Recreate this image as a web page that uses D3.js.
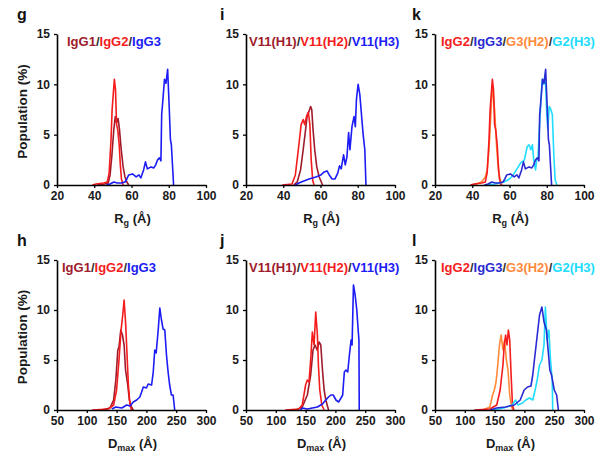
<!DOCTYPE html>
<html><head><meta charset="utf-8">
<script src="https://cdn.jsdelivr.net/npm/d3@7"></script>
<style>
body{margin:0;background:#fff}
svg{display:block;font-family:"Liberation Sans",Arial,sans-serif;font-weight:bold}
</style>
</head><body><svg id="c" width="604" height="458"></svg>
<script>
// ---------- data (x value, population %) ----------
const rgTicks = [20, 40, 60, 80, 100];
const dmTicks = [50, 100, 150, 200, 250, 300];
const popTicks = [0, 5, 10, 15];

// g : Rg
const rgIgG1 = [[41.5,0],[45.5,0.1],[47.5,0.2],[48.5,1.0],[49.5,3.0],[50.5,5.5],[51.3,6.8],[52,6.2],[52.8,6.6],[53.5,5.6],[54.5,3.5],[55.5,1.8],[56.5,0.8],[57.5,0.3],[58.5,0]];
const rgIgG2 = [[39,0],[41,0.1],[43,0.15],[45,0.2],[47,0.3],[48,1.2],[49,4.5],[49.6,7.5],[50.2,9.0],[50.8,10.5],[51.4,9.5],[52,6.0],[52.6,5.5],[53.4,4.0],[54,2.0],[54.6,0.6],[55.5,0]];
const rgIgG3 = [[46.5,0],[48.5,0.1],[50.5,0.3],[52.5,0.2],[54.5,0.2],[56.5,0.3],[57.5,0.6],[58.5,1.0],[60.5,1.1],[62.5,0.8],[64,1.0],[65,0.7],[66.5,1.5],[67.5,2.3],[68.5,1.6],[70.5,1.8],[72,1.7],[73,2.0],[74,2.5],[75,2.7],[75.8,2.4],[76.2,7.0],[76.8,8.3],[77.7,10.5],[78.5,10.1],[79.4,11.5],[80.3,7.5],[80.9,4.5],[81.4,4.0],[82.6,0]];
// i : Rg
const rgV11H1 = [[45.6,0],[47.5,0.3],[49.3,1.5],[50.7,3.5],[52,5.5],[52.9,7.0],[53.8,7.3],[54.7,7.8],[55.3,7.5],[56,5.5],[56.9,3.5],[58,1.8],[59.3,0.8],[61.1,0]];
const rgV11H2 = [[39.5,0],[44.7,0.1],[46.5,1.0],[48.4,4.0],[49.6,6.0],[50.7,6.5],[51.5,6.0],[52.5,6.8],[53.5,7.2],[54.3,6.0],[55,2.5],[55.8,0.5],[56.5,0]];
const rgV11H3 = [[46.5,0],[48.4,0.2],[51.1,0.4],[53.8,0.6],[57.5,0.8],[60.2,1.0],[62,1.3],[63.5,1.4],[64.7,1.0],[66.2,0.6],[67.8,0.6],[69.3,1.2],[70.2,1.9],[71.1,1.6],[72.4,3.0],[73.3,2.0],[74.2,2.8],[75.1,5.2],[75.8,3.5],[76.9,5.8],[78,6.8],[78.7,5.8],[79.3,8.5],[80.2,10.0],[81.1,9.0],[82,7.0],[82.9,5.0],[83.8,3.5],[84.4,0]];
// k : Rg
const rgG3H2 = [[41,0],[45,0.3],[47,0.8],[48,1.5],[49,3.5],[50,7.0],[50.7,9.5],[51.3,9.0],[52,7.5],[53,4.0],[54,1.5],[55,0.5],[56,0]];
const rgG2H3 = [[48,0],[52,0.1],[57,0.3],[60,0.6],[62,1.0],[64,1.6],[66,2.2],[68,2.5],[69.5,3.8],[70.5,4.0],[71.5,3.5],[72.3,4.0],[73,2.5],[74,1.5],[74.6,2.5],[75.3,2.8],[76,5.5],[76.8,8.0],[77.6,10.5],[78.4,10.0],[79.2,11.0],[80,7.0],[80.6,5.5],[81.3,7.8],[82.2,7.5],[83,7.0],[83.8,3.0],[84.5,0.5],[85.5,0]];

// h : Dmax
const dmIgG1 = [[125,0],[139,0.2],[145,1.0],[148.7,3.0],[152,6.0],[154,6.3],[157,8.0],[159.8,7.5],[162.6,6.5],[165,4.0],[168.7,2.5],[171.4,1.0],[175,0.3],[178,0]];
const dmIgG2 = [[109,0],[136,0.1],[145,0.5],[150,2.0],[154,5.0],[157.5,8.0],[160.3,9.5],[162.6,11.0],[165.3,8.5],[167.5,5.5],[169.8,2.5],[172.5,0.5],[175,0]];
const dmIgG3 = [[142,0.1],[148.7,0.3],[158.7,0.2],[167,0.5],[172.5,0.4],[178,0.8],[183.7,1.0],[189,1.3],[192,1.8],[194.8,2.3],[200,2.2],[203,2.6],[208.7,2.5],[211.5,3.8],[214,6.0],[216.4,5.7],[219.8,8.0],[222.5,10.2],[225.3,9.0],[228,8.1],[230.9,8.0],[233.7,5.5],[236.4,3.8],[239,2.5],[242,1.5],[244.8,1.5],[247.5,0]];
// j : Dmax
const dmV11H1 = [[134,0],[144.4,0.3],[152.9,1.5],[158.5,3.5],[162.5,6.0],[165.9,6.5],[169.3,6.0],[172.6,6.8],[175.5,6.5],[178.3,4.0],[181.1,2.0],[183.9,1.0],[188.5,0]];
const dmV11H2 = [[116,0],[138.7,0.1],[144.4,0.5],[150,2.5],[152.9,3.0],[155.7,2.8],[158.5,5.0],[161.3,7.8],[164.2,6.5],[167,9.8],[169.8,7.5],[171.5,4.5],[173.8,2.0],[177.2,0.5],[181.1,0]];
const dmV11H3 = [[141.6,0],[144.4,0.2],[152.9,0.1],[161.3,0.2],[169.8,0.3],[178.3,0.6],[183.9,1.0],[188.5,1.3],[192.4,1.5],[196.4,1.5],[200.9,1.0],[205.4,0.8],[209.4,1.2],[212.2,1.5],[215,3.8],[217.8,4.0],[220.7,3.8],[223.5,5.5],[226.3,7.0],[228,6.5],[230.3,12.5],[233.1,11.5],[235.9,10.0],[238.2,8.0],[239.5,7.0],[240,0]];
// l : Dmax
const dmIgG2l = [[116,0],[142,0.1],[153.6,0.5],[159.3,2.0],[164,4.5],[166.2,6.5],[168.5,7.5],[170.8,6.5],[173.1,8.0],[175.4,7.0],[177.7,3.5],[180,0.5],[182.3,0]];
const dmG3H2 = [[130.6,0],[142,0.3],[146.7,1.5],[149.6,2.0],[152.4,2.8],[155.3,4.5],[158.2,6.5],[161,7.5],[164,6.0],[166.8,7.0],[169.7,5.0],[172.5,4.0],[175.4,1.5],[178.3,0.3],[181.2,0]];
const dmIgG3l = [[143,0],[153,0.2],[168,0.3],[183,0.5],[193,1.0],[199.6,2.0],[205.3,2.3],[211,2.4],[214,3.5],[216.8,5.0],[219.7,6.5],[222.5,8.0],[225.4,9.5],[229.4,10.3],[232.9,8.8],[236.9,8.0],[239.8,6.0],[242.7,4.0],[245.5,3.5],[250.1,2.0],[254.1,1.5],[257,0]];
const dmG2H3 = [[147.8,0],[165,0.2],[179.4,0.5],[185.2,1.0],[189.2,0.5],[196.7,0.7],[202.4,1.0],[208.2,1.2],[214,1.0],[218,2.0],[221.4,3.0],[225.4,4.5],[229.4,5.0],[232.9,6.5],[235.2,10.3],[238.1,7.0],[241,8.0],[243.8,5.0],[246.7,3.0],[247.5,0]];

// ---------- styles ----------
const C = {dred:"#9e1b2c", red:"#f41c1c", blue:"#1c1cf5", navy:"#2a2ad2", orange:"#ff8a3c", cyan:"#20dcff", slash:"#333"};

const panels = [
  {letter:"g", col:0, row:0, kind:"rg", series:[
    {name:"IgG1", data:rgIgG1, color:C.dred},{name:"IgG2", data:rgIgG2, color:C.red},{name:"IgG3", data:rgIgG3, color:C.blue}]},
  {letter:"i", col:1, row:0, kind:"rg", series:[
    {name:"V11(H1)", data:rgV11H1, color:C.dred},{name:"V11(H2)", data:rgV11H2, color:C.red},{name:"V11(H3)", data:rgV11H3, color:C.blue}]},
  {letter:"k", col:2, row:0, kind:"rg", order:[2,0,3,1], series:[
    {name:"IgG2", data:rgIgG2, color:C.red},{name:"IgG3", data:rgIgG3, color:C.navy},{name:"G3(H2)", data:rgG3H2, color:C.orange},{name:"G2(H3)", data:rgG2H3, color:C.cyan}]},
  {letter:"h", col:0, row:1, kind:"dm", series:[
    {name:"IgG1", data:dmIgG1, color:C.dred},{name:"IgG2", data:dmIgG2, color:C.red},{name:"IgG3", data:dmIgG3, color:C.blue}]},
  {letter:"j", col:1, row:1, kind:"dm", series:[
    {name:"V11(H1)", data:dmV11H1, color:C.dred},{name:"V11(H2)", data:dmV11H2, color:C.red},{name:"V11(H3)", data:dmV11H3, color:C.blue}]},
  {letter:"l", col:2, row:1, kind:"dm", order:[2,0,3,1], series:[
    {name:"IgG2", data:dmIgG2l, color:C.red},{name:"IgG3", data:dmIgG3l, color:C.navy},{name:"G3(H2)", data:dmG3H2, color:C.orange},{name:"G2(H3)", data:dmG2H3, color:C.cyan}]}
];

const colX = [57, 246, 435], plotW = 149;
const rows = [{bottom:185, top:34}, {bottom:410, top:260}];

const svg = d3.select("#c");

panels.forEach(p => {
  const x0 = colX[p.col], r = rows[p.row];
  const x = d3.scaleLinear().domain(p.kind === "rg" ? [20,100] : [50,300]).range([x0, x0 + plotW]);
  const y = d3.scaleLinear().domain([0,15]).range([r.bottom, r.top]);
  const g = svg.append("g");

  // lines
  const line = d3.line().x(d => x(d[0])).y(d => y(d[1]));
  const order = p.order || p.series.map((s,i) => i);
  order.forEach(i => {
    const s = p.series[i];
    g.append("path").attr("d", line(s.data)).attr("fill","none")
      .attr("stroke", s.color).attr("stroke-width", 1.6).attr("stroke-linejoin","round");
  });

  // axes
  const xa = g.append("g").attr("transform", `translate(0,${r.bottom})`)
    .call(d3.axisBottom(x).tickValues(p.kind === "rg" ? rgTicks : dmTicks).tickSize(3).tickSizeOuter(0).tickPadding(3));
  const ya = g.append("g").attr("transform", `translate(${x0},0)`)
    .call(d3.axisLeft(y).tickValues(popTicks).tickSize(3).tickSizeOuter(0).tickPadding(4));
  [xa, ya].forEach(a => {
    a.select(".domain").attr("stroke","#000").attr("stroke-width",1.6);
    a.selectAll(".tick line").attr("stroke","#000").attr("stroke-width",1.3);
    a.selectAll("text").attr("font-size", 12).attr("font-weight","bold")
      .attr("font-family",'"Liberation Sans",Arial,sans-serif').attr("fill","#1a1a1a");
  });

  // axis title
  const xt = g.append("text").attr("x", x0 + plotW/2 + 1).attr("y", r.bottom + 38)
    .attr("text-anchor","middle").attr("font-size",13).attr("fill","#1a1a1a");
  if (p.kind === "rg") {
    xt.append("tspan").text("R");
    xt.append("tspan").attr("font-size",9).attr("dy",3).text("g");
    xt.append("tspan").attr("dy",-3).text(" (Å)");
  } else {
    xt.append("tspan").text("D");
    xt.append("tspan").attr("font-size",9).attr("dy",3).text("max");
    xt.append("tspan").attr("dy",-3).text(" (Å)");
  }

  if (p.col === 0) {
    g.append("text").attr("transform", `translate(27,${(r.bottom + r.top)/2 + 2}) rotate(-90)`)
      .attr("text-anchor","middle").attr("font-size",13.5).attr("fill","#1a1a1a").text("Population (%)");
  }

  // panel letter
  g.append("text").attr("x", p.col === 0 ? 17 : (p.col === 1 ? 220 : 412))
    .attr("y", r.top - 14).attr("font-size",16).attr("fill","#111").text(p.letter);

  // legend
  const lx = p.col === 0 ? (p.row === 0 ? 67 : 62) : (p.col === 1 ? 249 : 441);
  const lt = g.append("text").attr("x", lx).attr("y", r.top + 12).attr("font-size",13);
  p.series.forEach((s,i) => {
    if (i > 0) lt.append("tspan").attr("fill", C.slash).text("/");
    lt.append("tspan").attr("fill", s.color).text(s.name);
  });
});
</script></body></html>
